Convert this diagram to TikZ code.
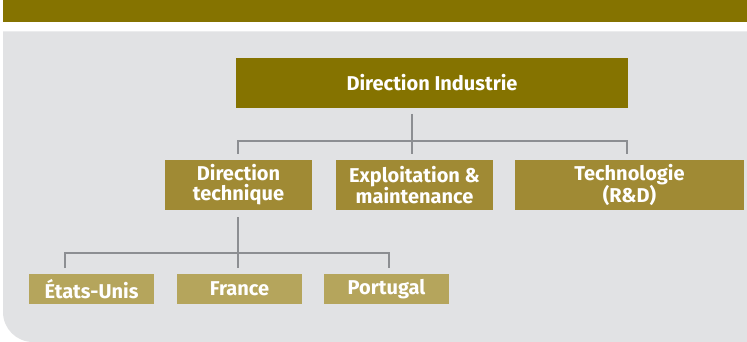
\documentclass[tikz,border=0pt]{standalone}
\usepackage{fontspec}
\setmainfont{Fira Sans}
\definecolor{golddark}{HTML}{857300}
\definecolor{goldmid}{HTML}{A08A34}
\definecolor{goldlight}{HTML}{B5A55C}
\definecolor{bggray}{HTML}{E1E2E4}
\definecolor{linegray}{HTML}{8C8E92}
\begin{document}
\begin{tikzpicture}[x=1pt,y=-1pt,
  box/.style={inner sep=0pt, align=center, text=white,
    font=\fontsize{20}{20}\selectfont\bfseries},
  lvlone/.style={box, fill=golddark, minimum height=50pt},
  lvltwo/.style={box, fill=goldmid, minimum height=50pt},
  lvlthree/.style={box, fill=goldlight, minimum height=30pt, minimum width=125pt},
  conn/.style={draw=linegray, line width=1.3pt}]
\useasboundingbox (0,0) rectangle (747,342);
\fill[white] (0,0) rectangle (747,342);
\fill[golddark] (3,0) rectangle (747,22);
\fill[bggray] (3,31.5) -- (747,31.5) -- (747,342) -- (33,342)
  .. controls (16.4,342) and (3,328.6) .. (3,312) -- cycle;

\node[lvlone, minimum width=392pt] (top) at (432,83) {Direction Industrie};
\node[lvltwo, minimum width=147pt] (dt) at (238.5,185) {Direction\\technique};
\node[lvltwo, minimum width=157pt] (ex) at (414.5,185) {Exploitation \&\\maintenance};
\node[lvltwo, minimum width=229pt] (tech) at (629.5,185) {Technologie\\(R\&D)};
\node[lvlthree] (eu) at (91.5,289) {\raisebox{-1pt}{États-Unis}};
\node[lvlthree] (fr) at (239.5,289) {\raisebox{-1pt}{France}};
\node[lvlthree] (pt) at (386.5,289) {\raisebox{-1pt}{Portugal}};

% upper connector
\coordinate (ta) at (412,114);
\coordinate (tb) at (412,154);
\coordinate (hl) at (238,141);
\coordinate (hr) at (627,141);
\coordinate (hle) at (238,154);
\coordinate (hre) at (627,154);
\draw[conn] (ta) -- (tb);
\draw[conn] (hle) -- (hl) -- (hr) -- (hre);

% lower connector
\coordinate (la) at (238,217);
\coordinate (lb) at (238,268);
\coordinate (ll) at (65,253);
\coordinate (lr) at (389,253);
\coordinate (lle) at (65,268);
\coordinate (lre) at (389,268);
\draw[conn] (la) -- (lb);
\draw[conn] (lle) -- (ll) -- (lr) -- (lre);
\end{tikzpicture}
\end{document}
